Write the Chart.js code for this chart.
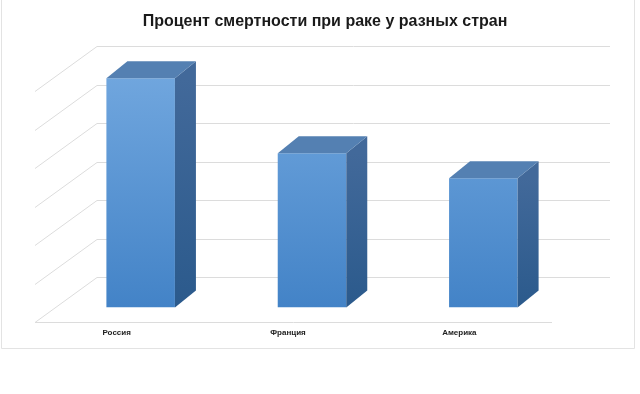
<!DOCTYPE html>
<html>
<head>
<meta charset="utf-8">
<script src="https://cdn.jsdelivr.net/npm/chart.js@4"></script>
<style>
  html, body { margin: 0; padding: 0; background: #fff; }
  #wrap { width: 640px; height: 394px; position: relative; }
</style>
</head>
<body>
<div id="wrap"><canvas id="chart"></canvas></div>
<script>
  // данные
  const countries = ['Россия', 'Франция', 'Америка'];
  const deathRate = [59.5, 40, 33.5];
  const gridValues = [0, 10, 20, 30, 40, 50, 60];
  const chartTitle = 'Процент смертности при раке у разных стран';

  // 3D-эффект: стены, сетка, верх и бок столбиков
  const box3d = {
    id: 'box3d',
    beforeDatasetsDraw(chart) {
      const ctx = chart.ctx;
      const area = chart.chartArea;
      const y = chart.scales.y;
      const backL = area.left + 42, backR = area.right + 41;
      const frontL = area.left - 20;
      ctx.save();
      ctx.strokeStyle = '#dcdcdc';
      ctx.lineWidth = 1;
      gridValues.forEach(v => {
        const py = Math.round(y.getPixelForValue(v)) + 0.5;
        ctx.beginPath();
        ctx.moveTo(frontL, py + 15);
        ctx.lineTo(backL, py - 30);
        ctx.lineTo(backR, py - 30);
        ctx.stroke();
      });
      const floor = Math.round(y.getPixelForValue(0)) + 15.5;
      ctx.beginPath();
      ctx.moveTo(frontL, floor);
      ctx.lineTo(area.right - 17, floor);
      ctx.stroke();
      // рамка
      ctx.strokeStyle = '#e3e3e3';
      ctx.beginPath();
      ctx.moveTo(1.5, 0);
      ctx.lineTo(1.5, 348.5);
      ctx.lineTo(634.5, 348.5);
      ctx.lineTo(634.5, 0);
      ctx.stroke();
      ctx.restore();
    },
    afterDatasetsDraw(chart) {
      const ctx = chart.ctx;
      const dx = 21, dy = 17;
      chart.getDatasetMeta(0).data.forEach(bar => {
        const p = bar.getProps(['x', 'y', 'base', 'width']);
        const l = p.x - p.width / 2, r = p.x + p.width / 2;
        ctx.save();
        // бок
        const side = ctx.createLinearGradient(0, p.y, 0, p.base);
        side.addColorStop(0, '#42699a');
        side.addColorStop(1, '#2b5a8c');
        ctx.fillStyle = side;
        ctx.beginPath();
        ctx.moveTo(r, p.y);
        ctx.lineTo(r + dx, p.y - dy);
        ctx.lineTo(r + dx, p.base - dy);
        ctx.lineTo(r, p.base);
        ctx.closePath();
        ctx.fill();
        // верх
        ctx.fillStyle = '#5480b2';
        ctx.beginPath();
        ctx.moveTo(l, p.y);
        ctx.lineTo(l + dx, p.y - dy);
        ctx.lineTo(r + dx, p.y - dy);
        ctx.lineTo(r, p.y);
        ctx.closePath();
        ctx.fill();
        ctx.restore();
      });
    }
  };

  function frontFill(context) {
    const area = context.chart.chartArea;
    if (!area) return '#5590d0';
    const g = context.chart.ctx.createLinearGradient(0, area.top, 0, area.bottom);
    g.addColorStop(0, '#70a6de');
    g.addColorStop(1, '#4383c7');
    return g;
  }

  new Chart(document.getElementById('chart').getContext('2d'), {
    type: 'bar',
    data: {
      labels: countries,
      datasets: [{
        data: deathRate,
        backgroundColor: frontFill,
        borderWidth: 0,
        categoryPercentage: 0.8,
        barPercentage: 0.5
      }]
    },
    options: {
      responsive: true,
      maintainAspectRatio: false,
      animation: false,
      layout: { padding: { left: 55, right: 45, top: 0, bottom: 35 } },
      plugins: {
        legend: { display: false },
        tooltip: { enabled: false },
        title: {
          display: true,
          text: chartTitle,
          color: '#1a1a1a',
          font: { family: 'Liberation Sans', size: 16, weight: 'bold' },
          padding: { top: 12, bottom: 45 }
        }
      },
      scales: {
        x: {
          grid: { display: false, drawTicks: false },
          border: { display: false },
          ticks: {
            color: '#222',
            font: { family: 'Liberation Sans', size: 8, weight: 'bold' },
            padding: 21,
            labelOffset: -24
          }
        },
        y: {
          position: 'right',
          min: 0,
          max: 60,
          grid: { display: false, drawTicks: false },
          border: { display: false },
          ticks: { display: false },
          afterFit(scale) { scale.width = 26; }
        }
      }
    },
    plugins: [box3d]
  });
</script>
</body>
</html>
